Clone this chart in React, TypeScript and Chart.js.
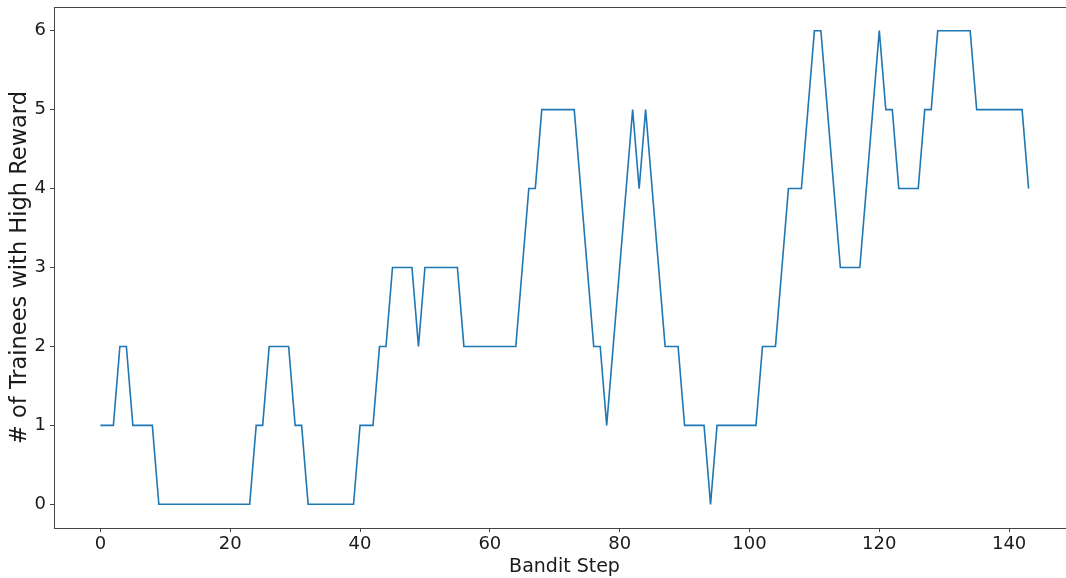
import React, { useEffect, useRef } from "react";
import { Chart, registerables } from "chart.js";

Chart.register(...registerables);

const steps: number[] = Array.from({ length: 144 }, (_, i) => i);
const trainees: number[] = [
  1, 1, 1, 2, 2, 1, 1, 1, 1, 0,
  0, 0, 0, 0, 0, 0, 0, 0, 0, 0,
  0, 0, 0, 0, 1, 1, 2, 2, 2, 2,
  1, 1, 0, 0, 0, 0, 0, 0, 0, 0,
  1, 1, 1, 2, 2, 3, 3, 3, 3, 2,
  3, 3, 3, 3, 3, 3, 2, 2, 2, 2,
  2, 2, 2, 2, 2, 3, 4, 4, 5, 5,
  5, 5, 5, 5, 4, 3, 2, 2, 1, 2,
  3, 4, 5, 4, 5, 4, 3, 2, 2, 2,
  1, 1, 1, 1, 0, 1, 1, 1, 1, 1,
  1, 1, 2, 2, 2, 3, 4, 4, 4, 5,
  6, 6, 5, 4, 3, 3, 3, 3, 4, 5,
  6, 5, 5, 4, 4, 4, 4, 5, 5, 6,
  6, 6, 6, 6, 6, 5, 5, 5, 5, 5,
  5, 5, 5, 4,
];
const xTicks: number[] = [0, 20, 40, 60, 80, 100, 120, 140];
const yTicks: number[] = [0, 1, 2, 3, 4, 5, 6];
const xTitle = "Bandit Step";
const yTitle = "# of Trainees with High Reward";

const FONT = "'DejaVu Sans', sans-serif";
const AXIS = "#444444";
const TEXT = "#1a1a1a";

const framePlugin = {
  id: "frame",
  afterDraw(chart: any) {
    const { ctx, chartArea } = chart;
    ctx.save();
    ctx.strokeStyle = AXIS;
    ctx.lineWidth = 1;
    ctx.strokeRect(
      Math.round(chartArea.left) + 0.5,
      Math.round(chartArea.top) + 0.5,
      Math.round(chartArea.right - chartArea.left),
      Math.round(chartArea.bottom - chartArea.top)
    );
    ctx.restore();
  },
};

export default function App() {
  const ref = useRef<HTMLCanvasElement | null>(null);

  useEffect(() => {
    document.body.style.margin = "0";
    document.body.style.overflow = "hidden";
    const canvas = ref.current;
    if (!canvas) return;
    const chart = new Chart(canvas, {
      type: "line",
      data: {
        datasets: [
          {
            data: steps.map((s, i) => ({ x: s, y: trainees[i] })),
            borderColor: "#1f77b4",
            borderWidth: 1.6,
            pointRadius: 0,
            fill: false,
            tension: 0,
          },
        ],
      },
      plugins: [framePlugin],
      options: {
        animation: false,
        responsive: false,
        devicePixelRatio: 1,
        layout: { padding: { top: 7, right: 1, left: 0, bottom: 0 } },
        plugins: { legend: { display: false }, tooltip: { enabled: false } },
        scales: {
          x: {
            type: "linear",
            min: -7.15,
            max: 150.15,
            afterBuildTicks: (scale: any) => {
              scale.ticks = xTicks.map((v) => ({ value: v }));
            },
            afterFit: (scale: any) => {
              scale.height = 50;
              scale.paddingLeft = 0;
              scale.paddingRight = 0;
            },
            grid: {
              drawOnChartArea: false,
              drawTicks: true,
              tickLength: 4,
              color: AXIS,
            },
            border: { display: true, color: AXIS, width: 1 },
            ticks: {
              font: { family: FONT, size: 18 },
              color: TEXT,
              padding: 2,
              maxRotation: 0,
              autoSkip: false,
            },
            title: {
              display: true,
              text: xTitle,
              font: { family: FONT, size: 19 },
              color: TEXT,
              padding: { top: 0, bottom: 0 },
            },
          },
          y: {
            type: "linear",
            min: -0.3,
            max: 6.3,
            afterBuildTicks: (scale: any) => {
              scale.ticks = yTicks.map((v) => ({ value: v }));
            },
            afterFit: (scale: any) => {
              scale.width = 54;
              scale.paddingTop = 0;
              scale.paddingBottom = 0;
            },
            grid: {
              drawOnChartArea: false,
              drawTicks: true,
              tickLength: 4,
              color: AXIS,
            },
            border: { display: true, color: AXIS, width: 1 },
            ticks: {
              font: { family: FONT, size: 18 },
              color: TEXT,
              padding: 4,
              autoSkip: false,
            },
            title: {
              display: true,
              text: yTitle,
              font: { family: FONT, size: 22.5 },
              color: TEXT,
              padding: { top: 7, bottom: 0 },
            },
          },
        },
      },
    } as any);
    return () => chart.destroy();
  }, []);

  return (
    <div style={{ position: "fixed", left: 0, top: 0, width: 1066, height: 578, overflow: "hidden", background: "#fff" }}>
      <canvas ref={ref} width={1076} height={578} style={{ display: "block" }} />
    </div>
  );
}
